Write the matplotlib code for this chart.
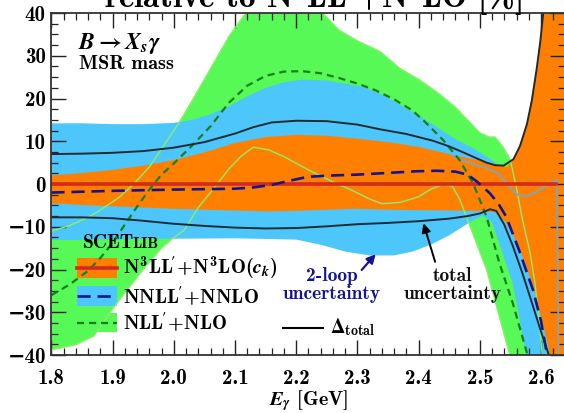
#!/usr/bin/env python3
"""
B -> X_s gamma spectrum: relative scale uncertainties of the resummed
predictions (SCETlib, MSR mass scheme), normalised to N3LL'+N3LO.

Usage:
    python plot.py
"""

import matplotlib
matplotlib.use('Agg')
import matplotlib.pyplot as plt
from matplotlib.patches import Rectangle
from matplotlib.lines import Line2D
from matplotlib.ticker import MultipleLocator
import numpy as np

# ---------------------------------------------------------------------------
# Data: E_gamma [GeV] vs. deviation [%]
# ---------------------------------------------------------------------------

# NLL'+NLO band (green)
nll_hi_E = [1.80, 1.83, 1.86, 1.88, 1.91, 1.936, 1.96, 1.979, 2.008, 2.03, 2.06,
            2.09, 2.12, 2.16, 2.20, 2.24, 2.27, 2.30, 2.337, 2.37, 2.40, 2.43,
            2.46, 2.48, 2.50, 2.515, 2.525, 2.538, 2.55, 2.56, 2.57, 2.582,
            2.59, 2.597, 2.602, 2.606]
nll_hi_v = [-11.0, -9.7, -7.8, -6.1, -3.2, 0.2, 4.0, 8.0, 14.2, 19.5, 27.0,
            34.5, 40.5, 46.0, 45.0, 40.5, 36.0, 33.5, 31.0, 27.0, 24.5, 21.5,
            18.0, 15.0, 12.0, 11.0, 11.0, 8.7, 5.6, -1.0, -8.5, -16.0,
            -23.0, -32.0, -40.0, -46.0]
nll_lo_E = [1.80, 1.84, 1.87, 1.895, 1.92, 1.95, 1.98, 2.00, 2.017, 2.04, 2.06,
            2.09, 2.11, 2.13, 2.155, 2.18, 2.22, 2.26, 2.29, 2.32, 2.34, 2.37,
            2.40, 2.42, 2.44, 2.455, 2.467, 2.478, 2.495, 2.511, 2.53, 2.549,
            2.555]
nll_lo_v = [-38.8, -37.6, -35.5, -30.2, -25.5, -20.0, -15.0, -12.5, -10.8, -5.5, -2.0,
            3.5, 6.5, 8.6, 8.0, 6.4, 3.3, 0.5, -1.4, -3.5, -4.6, -4.3,
            -3.0, -1.2, -0.1, -0.5, -3.5, -7.6, -14.0, -20.0, -30.0, -40.0,
            -46.0]
nll_c_E = [1.80, 1.83, 1.86, 1.88, 1.90, 1.92, 1.94, 1.96, 1.98, 2.00, 2.03,
           2.06, 2.09, 2.12, 2.15, 2.18, 2.21, 2.24, 2.27, 2.30, 2.33, 2.36,
           2.39, 2.41, 2.44, 2.467, 2.489, 2.511, 2.532, 2.554, 2.578, 2.582]
nll_c_v = [-26.0, -23.5, -20.3, -17.3, -13.8, -9.5, -5.3, -1.3, 2.2, 4.8, 9.0,
           13.5, 19.0, 23.0, 25.3, 26.3, 26.4, 25.9, 24.8, 23.5, 21.9, 19.8,
           17.2, 14.6, 10.3, 5.6, 0.2, -7.6, -18.5, -27.9, -40.0, -44.0]

# NNLL'+NNLO band (blue)
nnll_hi_E = [1.80, 1.85, 1.90, 1.95, 2.00, 2.03, 2.06, 2.09, 2.12, 2.15, 2.18,
             2.21, 2.25, 2.28, 2.31, 2.34, 2.37, 2.40, 2.43, 2.46, 2.49, 2.51,
             2.53, 2.545, 2.56, 2.575, 2.59, 2.61, 2.626, 2.629]
nnll_hi_v = [14.2, 14.2, 14.0, 14.0, 14.3, 15.0, 16.3, 18.2, 20.5, 22.5, 23.8,
             24.4, 24.2, 23.5, 22.7, 21.0, 18.5, 16.0, 13.3, 10.5, 8.3, 6.5,
             4.6, 1.0, -2.5, -2.8, -2.0, -0.3, 1.0, -46.0]
nnll_lo_E = [1.80, 1.90, 2.00, 2.10, 2.20, 2.24, 2.28, 2.32, 2.36, 2.39, 2.42,
             2.45, 2.47, 2.49, 2.505, 2.52, 2.532, 2.554, 2.576, 2.58]
nnll_lo_v = [-13.1, -13.0, -12.8, -12.7, -13.0, -14.2, -15.8, -16.7, -16.7, -15.8, -14.2,
             -12.0, -10.2, -8.4, -7.4, -9.0, -13.9, -23.3, -40.0, -46.0]
nnll_c_E = [1.80, 1.90, 2.00, 2.10, 2.13, 2.16, 2.19, 2.22, 2.26, 2.30, 2.35,
            2.40, 2.43, 2.46, 2.48, 2.495, 2.516, 2.53, 2.543, 2.564, 2.587,
            2.60, 2.61, 2.614]
nnll_c_v = [-2.0, -1.6, -1.3, -1.1, -0.8, -0.2, 0.8, 1.7, 2.0, 2.2, 2.6,
            3.0, 3.1, 2.9, 2.2, 0.6, -2.1, -4.5, -7.6, -15.4, -24.8,
            -32.0, -40.0, -44.0]
# visible edge of the NNLL' band inside the orange band
nnll_edge_E = [2.455, 2.47, 2.49, 2.51, 2.53, 2.545, 2.56, 2.575, 2.59, 2.61,
               2.626, 2.629]
nnll_edge_v = [6.6, 5.6, 4.6, 3.8, 2.5, 0.0, -2.4, -2.9, -2.1, -0.3,
               1.0, -42.0]

# N3LL'+N3LO(c_k) band (orange), central value is the reference (0)
n3ll_hi_E = [1.80, 1.85, 1.90, 1.95, 2.00, 2.05, 2.10, 2.15, 2.20, 2.25, 2.30,
             2.35, 2.40, 2.45, 2.50, 2.53, 2.545, 2.56, 2.577, 2.593, 2.604,
             2.607, 2.64]
n3ll_hi_v = [2.0, 2.6, 3.3, 4.3, 5.6, 7.4, 9.6, 11.0, 11.5, 11.3, 10.6,
             9.8, 8.7, 7.0, 5.5, 4.5, 4.0, 7.0, 14.0, 27.0, 40.5,
             46.0, 46.0]
n3ll_lo_E = [1.80, 1.85, 1.90, 1.95, 2.00, 2.05, 2.10, 2.15, 2.20, 2.25, 2.30,
             2.35, 2.40, 2.45, 2.50, 2.525, 2.54, 2.555, 2.57, 2.585, 2.60,
             2.612, 2.618, 2.64]
n3ll_lo_v = [-4.5, -4.9, -5.2, -5.5, -5.8, -6.0, -6.2, -6.4, -6.3, -6.0, -5.8,
             -6.0, -6.1, -6.2, -6.3, -6.6, -8.5, -12.0, -17.0, -23.0, -31.0,
             -38.0, -46.0, -46.0]
n3ll_c_E = [1.80, 2.625]
n3ll_c_v = [0.0, 0.0]

# total uncertainty Delta_total
dtot_hi_E = [1.80, 1.85, 1.90, 1.95, 2.00, 2.05, 2.10, 2.13, 2.16, 2.20, 2.25,
             2.30, 2.337, 2.38, 2.424, 2.45, 2.473, 2.495, 2.511, 2.525, 2.539,
             2.555, 2.566, 2.577, 2.585, 2.593, 2.599, 2.604, 2.607]
dtot_hi_v = [7.0, 7.1, 7.3, 7.7, 8.5, 9.8, 11.8, 13.3, 14.4, 14.8, 14.7,
             13.9, 12.8, 11.7, 10.1, 8.8, 7.4, 6.0, 5.0, 4.4, 4.3,
             5.8, 9.0, 14.0, 19.5, 27.0, 33.5, 40.5, 45.0]
dtot_lo_E = [1.80, 1.85, 1.90, 1.95, 2.00, 2.05, 2.10, 2.15, 2.20, 2.25, 2.30,
             2.35, 2.40, 2.45, 2.48, 2.50, 2.517, 2.527, 2.54, 2.554, 2.57,
             2.587, 2.60, 2.614, 2.617]
dtot_lo_v = [-7.8, -7.8, -8.0, -8.6, -9.3, -9.8, -10.2, -10.4, -10.3, -9.9, -9.4,
             -9.1, -8.7, -8.1, -7.5, -6.9, -5.9, -6.3, -9.5, -14.5, -21.0,
             -28.6, -34.5, -40.5, -44.0]

# annotation anchors (E, %)
loop_text_pos = (2.2585, -23.6)
loop_arrow_tail = (2.307, -20.1)
loop_arrow_head = (2.330, -16.4)
total_text_pos = (2.455, -23.6)
total_arrow_tail = (2.427, -18.2)
total_arrow_head = (2.408, -9.2)

x_ticks = [1.8, 1.9, 2.0, 2.1, 2.2, 2.3, 2.4, 2.5, 2.6]
y_ticks = [40, 30, 20, 10, 0, -10, -20, -30, -40]

# colours
C_GREEN = '#57f957'
C_BLUE = '#4cc6fb'
C_ORANGE = '#ff8000'
C_RED = '#d22a1e'
C_NAVY = '#14148e'
C_DGREEN = '#15801a'
C_TOTAL = '#1f2b33'
C_GREEN_EDGE = '#8cee6c'
C_BLUE_EDGE = '#7ba7c2'


def band(ax, E_hi, v_hi, E_lo, v_lo, color):
    """Fill the region between an upper and a lower curve."""
    xs = np.concatenate([E_hi, E_lo[::-1]])
    ys = np.concatenate([v_hi, v_lo[::-1]])
    ax.fill(xs, ys, color=color, lw=0)


def main():
    plt.rcParams['font.family'] = ['cmb10', 'DejaVu Serif']
    plt.rcParams['font.weight'] = 'bold'
    plt.rcParams['mathtext.fontset'] = 'custom'
    plt.rcParams['mathtext.rm'] = 'cmb10'
    plt.rcParams['mathtext.bf'] = 'cmb10'
    plt.rcParams['mathtext.it'] = 'STIXGeneral:italic:bold'
    plt.rcParams['mathtext.fallback'] = 'stix'

    fig = plt.figure(figsize=(5.64, 4.13), dpi=100)
    ax = fig.add_axes([0.0911, 0.1404, 0.9115, 0.8281])

    band(ax, np.array(nll_hi_E), np.array(nll_hi_v),
         np.array(nll_lo_E), np.array(nll_lo_v), C_GREEN)
    band(ax, np.array(nnll_hi_E), np.array(nnll_hi_v),
         np.array(nnll_lo_E), np.array(nnll_lo_v), C_BLUE)
    band(ax, np.array(n3ll_hi_E), np.array(n3ll_hi_v),
         np.array(n3ll_lo_E), np.array(n3ll_lo_v), C_ORANGE)

    # band edges that show through the other bands
    ax.plot(nll_hi_E, nll_hi_v, color=C_GREEN_EDGE, lw=1.0)
    ax.plot(nll_lo_E, nll_lo_v, color=C_GREEN_EDGE, lw=1.0)
    ax.plot(nnll_edge_E, nnll_edge_v, color=C_BLUE_EDGE, lw=1.3)

    # central values
    ax.plot(n3ll_c_E, n3ll_c_v, color=C_RED, lw=2.6)
    ax.plot(nll_c_E, nll_c_v, color=C_DGREEN, lw=1.6, dashes=(3.2, 2.2))
    ax.plot(nnll_c_E, nnll_c_v, color=C_NAVY, lw=1.9, dashes=(5.0, 2.6))

    # total uncertainty
    ax.plot(dtot_hi_E, dtot_hi_v, color=C_TOTAL, lw=1.4)
    ax.plot(dtot_lo_E, dtot_lo_v, color=C_TOTAL, lw=1.4)

    ax.set_xlim(1.8, 2.64)
    ax.set_ylim(-40, 40)
    ax.set_xticks(x_ticks)
    ax.set_xticklabels([f'{t:.1f}' for t in x_ticks])
    ax.set_yticks(y_ticks)
    ax.xaxis.set_minor_locator(MultipleLocator(0.02))
    ax.yaxis.set_minor_locator(MultipleLocator(2.5))
    ax.tick_params(which='both', direction='in', top=True, right=True,
                   labelsize=15, color='#222222')
    ax.tick_params(which='major', length=10.5, width=1.0)
    ax.tick_params(which='minor', length=5, width=0.9)
    ax.tick_params(axis='x', which='major', pad=10)
    ax.tick_params(axis='y', which='major', pad=4)
    for s in ax.spines.values():
        s.set_linewidth(1.3)
        s.set_color('#333333')

    ax.set_xlabel(r'$E_\gamma$ [GeV]', fontsize=14.5, labelpad=0)

    # partially visible label at the top edge
    fig.text(0.555, 0.9806, r"relative to N$^3$LL$'$+N$^3$LO [%]",
             ha='center', va='baseline', fontsize=24)

    ax.text(0.052, 0.895, r'$B\rightarrow X_s\gamma$', transform=ax.transAxes,
            fontsize=17, ha='left', va='baseline')
    ax.text(0.053, 0.836, 'MSR mass', transform=ax.transAxes,
            fontsize=14.5, ha='left', va='baseline')

    # annotations
    ax.text(*loop_text_pos, '2-loop\nuncertainty', color=C_NAVY,
            fontsize=14, ha='center', va='center', linespacing=0.95)
    ax.annotate('', xy=loop_arrow_head, xytext=loop_arrow_tail,
                arrowprops=dict(arrowstyle='-|>', color=C_NAVY, lw=1.6,
                                mutation_scale=13, shrinkA=0, shrinkB=0))
    ax.text(*total_text_pos, 'total\nuncertainty', color='#111111',
            fontsize=14, ha='center', va='center', linespacing=0.95)
    ax.annotate('', xy=total_arrow_head, xytext=total_arrow_tail,
                arrowprops=dict(arrowstyle='-|>', color='black', lw=1.4,
                                mutation_scale=13, shrinkA=0, shrinkB=0))

    # hand-made legend
    ax.text(0.061, 0.313, 'SCET', transform=ax.transAxes,
            fontsize=14, ha='left', va='baseline')
    ax.text(0.158, 0.313, 'LIB', transform=ax.transAxes,
            fontsize=11, ha='left', va='baseline')

    rows = [
        (0.2535, C_ORANGE, C_RED, 2.6, None,
         r"$\mathrm{N^3LL\!'\!+\!N^3LO}(c_k)$"),
        (0.1715, C_BLUE, C_NAVY, 1.9, (5.0, 2.6), r"$\mathrm{NNLL\!'\!+\!NNLO}$"),
        (0.095, C_GREEN, C_DGREEN, 1.6, (3.2, 2.2), r"$\mathrm{NLL\!'\!+\!NLO}$"),
    ]
    for yc, fc, lc, lw, dash, label in rows:
        ax.add_patch(Rectangle((0.0506, yc - 0.029), 0.0772, 0.058,
                               transform=ax.transAxes, color=fc, lw=0))
        ln = Line2D([0.0506, 0.1278], [yc, yc], transform=ax.transAxes,
                    color=lc, lw=lw)
        if dash:
            ln.set_dashes(dash)
        ax.add_line(ln)
        ax.text(0.139, yc, label, transform=ax.transAxes, fontsize=14.5,
                ha='left', va='center')

    ax.add_line(Line2D([0.4506, 0.5284], [0.0804, 0.0804],
                       transform=ax.transAxes, color='black', lw=1.5))
    ax.text(0.542, 0.0804, r'$\mathrm{\Delta}_{\mathrm{total}}$',
            transform=ax.transAxes, fontsize=14.5, ha='left', va='center')

    fig.savefig('out.png', dpi=100)
    plt.close(fig)


if __name__ == '__main__':
    main()
